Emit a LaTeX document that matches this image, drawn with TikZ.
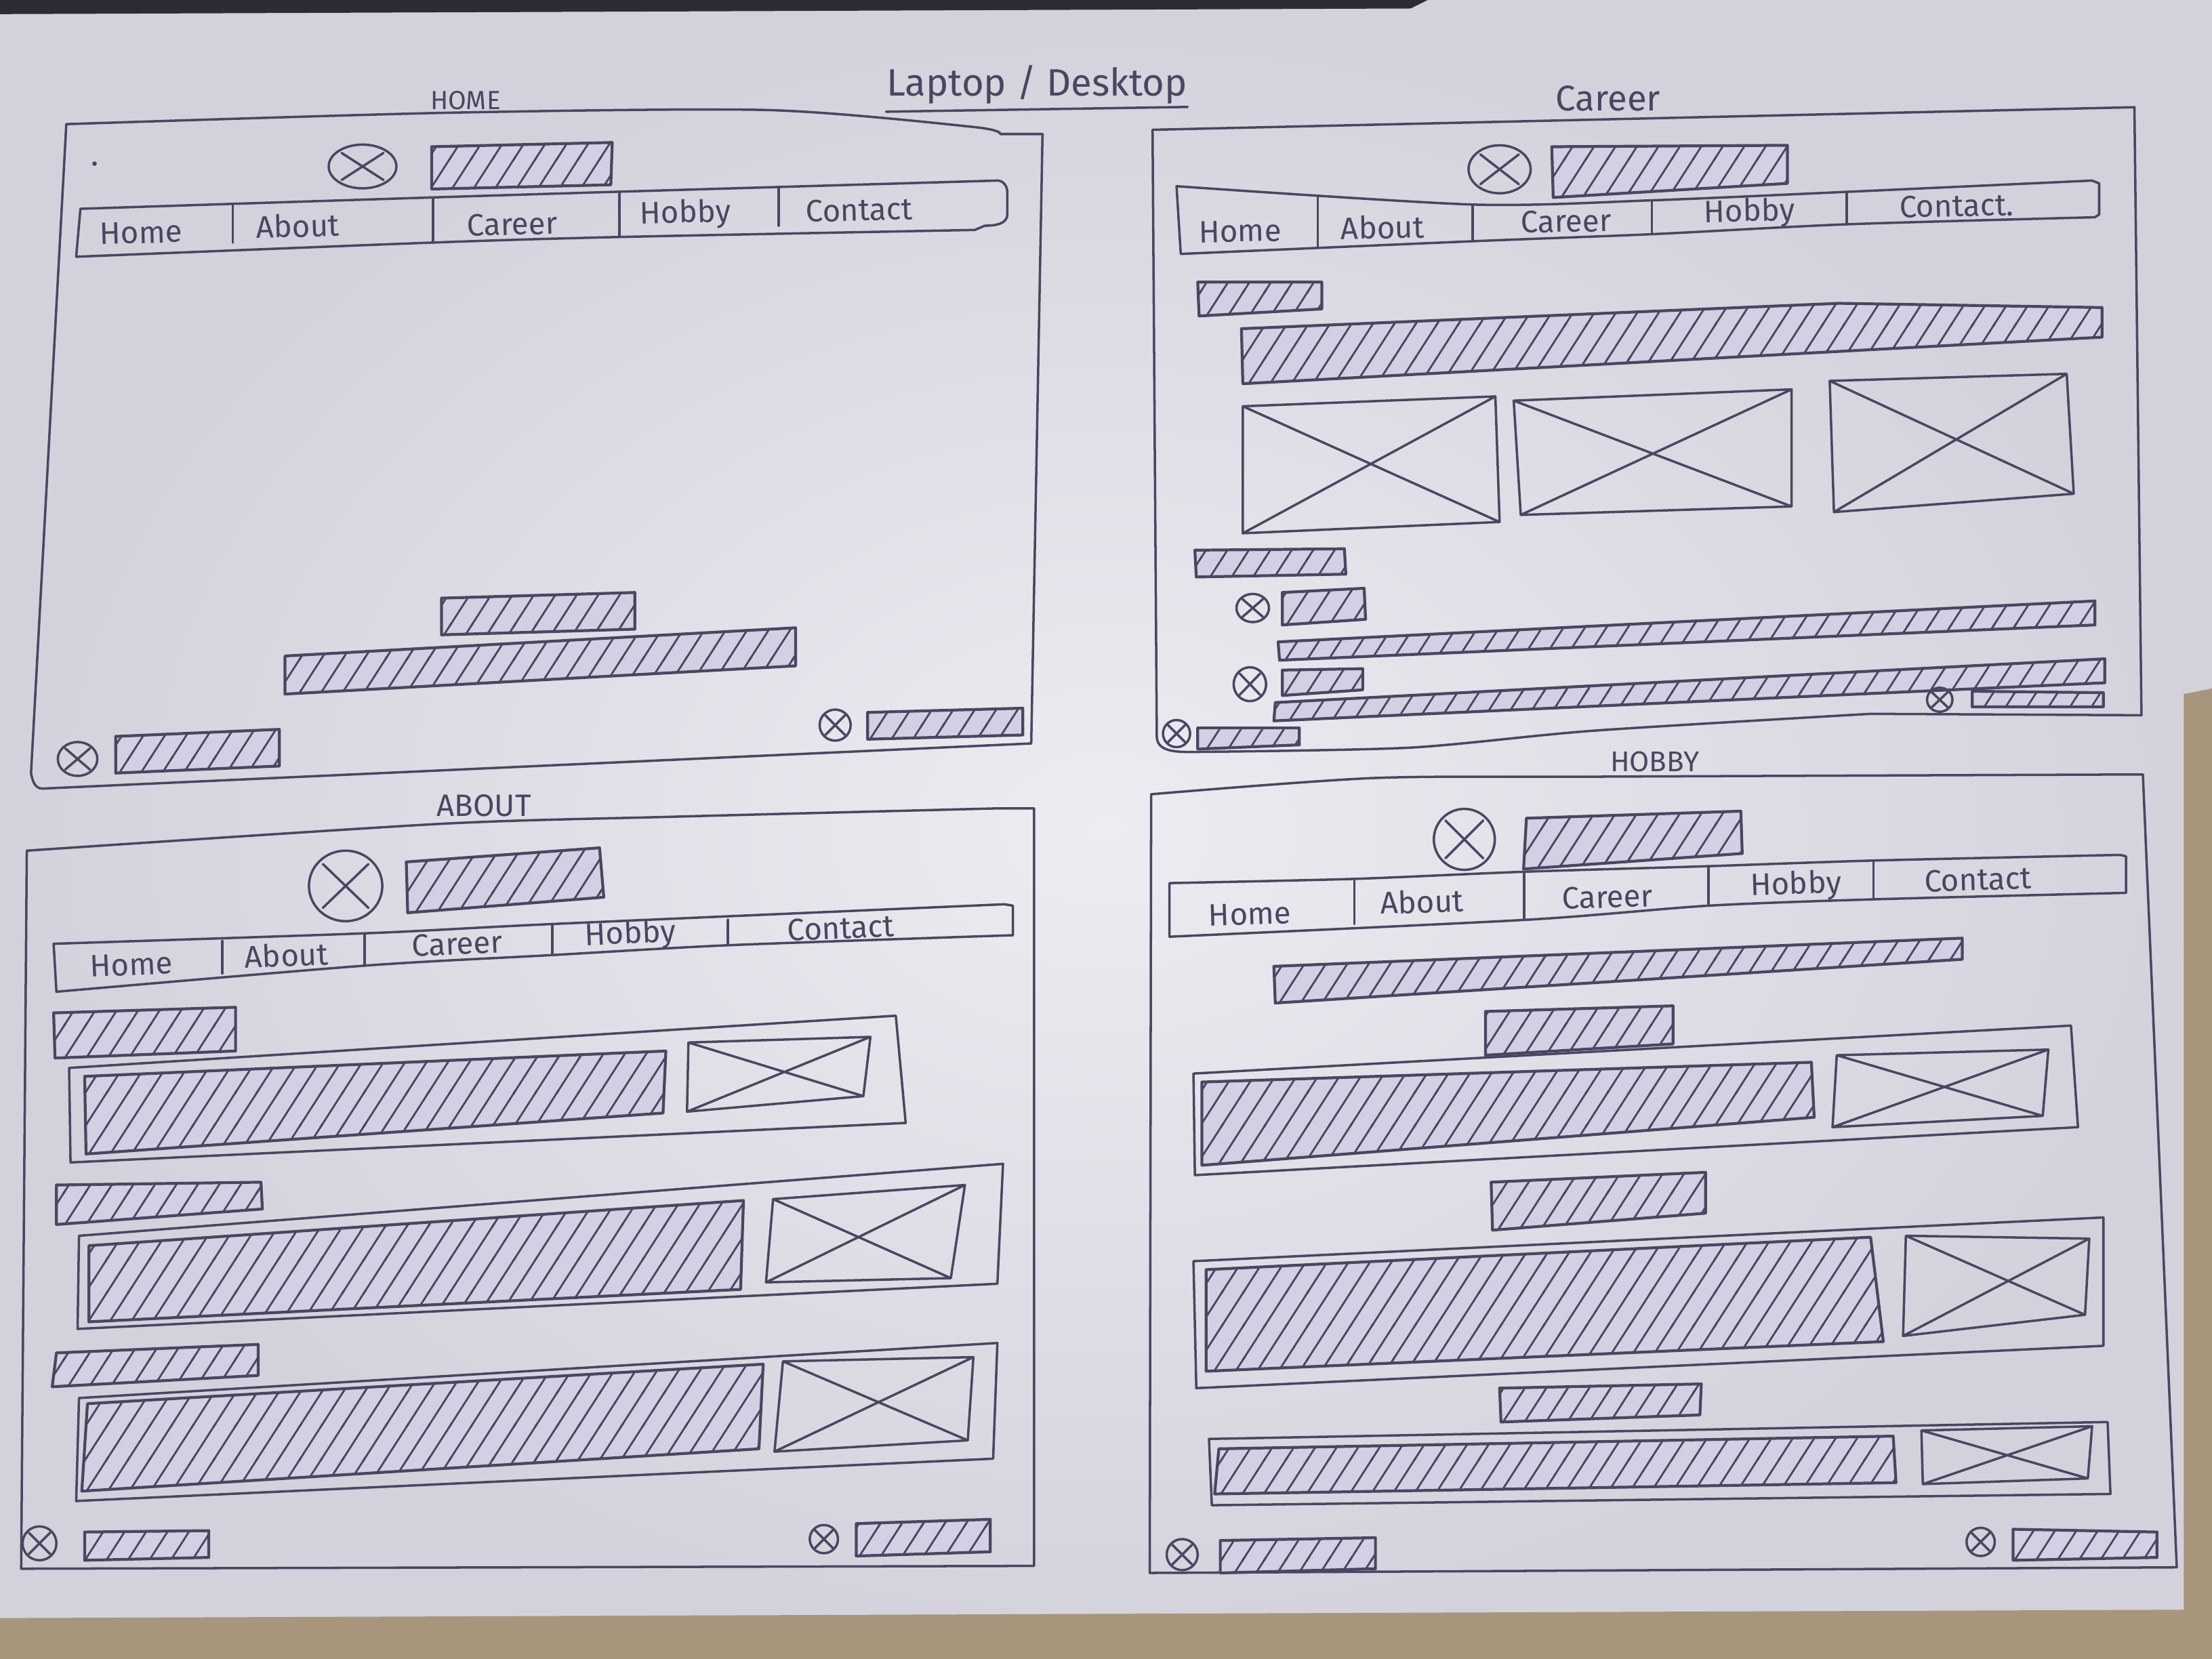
\documentclass[tikz,border=0pt]{standalone}
\usepackage{fontspec}
\setmainfont{Fira Sans}
\usetikzlibrary{patterns}
\definecolor{ink}{HTML}{4A4662}
\definecolor{barfill}{HTML}{D2D0E2}
\definecolor{paperin}{HTML}{EDECF2}
\definecolor{paperout}{HTML}{D3D2DC}
\definecolor{wood}{HTML}{A8967C}
\definecolor{shadow}{HTML}{2C2B36}

% pen hatching: steep strokes going up to the right
\pgfdeclarepatternformonly{penhatch}{\pgfqpoint{-1pt}{-1pt}}{\pgfqpoint{10pt}{15pt}}{\pgfqpoint{9pt}{14pt}}{%
  \pgfsetlinewidth{0.8pt}\pgfsetroundcap
  \pgfpathmoveto{\pgfqpoint{-0.5pt}{-0.78pt}}%
  \pgfpathlineto{\pgfqpoint{9.5pt}{14.78pt}}%
  \pgfusepath{stroke}}

\tikzset{
  pen/.style={draw=ink, line width=1pt, line join=round, line cap=round},
  hatched/.style={pen, line width=1.2pt, preaction={fill=barfill}, pattern=penhatch, pattern color=ink},
  navtxt/.style={text=ink, inner sep=0pt, font=\fontsize{13}{13}\selectfont},
  paneltitle/.style={text=ink, inner sep=0pt},
  wavy/.style={smooth, tension=0.45},
}

% hatched bar through four corners: top left, top right, bottom right, bottom left
\newcommand\hq[8]{\draw[hatched] (#1,#2) -- (#3,#4) -- (#5,#6) -- (#7,#8) -- cycle;}
% image placeholder through four corners, with both diagonals
\newcommand\iq[8]{\draw[pen] (#1,#2) -- (#3,#4) -- (#5,#6) -- (#7,#8) -- cycle
  (#1,#2) -- (#5,#6) (#3,#4) -- (#7,#8);}
% hatched bar: left x, top y, right x, bottom y, rise of the right end
\newcommand\hatchbar[5]{\draw[hatched] (#1,#2) -- (#3,{#2-#5}) -- (#3,{#4-#5}) -- (#1,#4) -- cycle;}
% crossed circle icon: centre x, centre y, x radius, y radius
\newcommand\xcirc[4]{\draw[pen] (#1,#2) ellipse [x radius=#3, y radius=#4]
  ({#1-0.62*#3},{#2-0.62*#4}) -- ({#1+0.62*#3},{#2+0.62*#4})
  ({#1-0.62*#3},{#2+0.62*#4}) -- ({#1+0.62*#3},{#2-0.62*#4});}

\begin{document}
\begin{tikzpicture}[x=0.020816cm, y=-0.020816cm]
\useasboundingbox (0,0) rectangle (1568,1176);

% sheet and surroundings
\shade[inner color=paperin, outer color=paperout] (0,0) rectangle (1568,1176);
\fill[shadow] (0,0) -- (1012,0) -- (1000,6) -- (0,10) -- cycle;
\fill[wood] (1548,492) -- (1568,488) -- (1568,1176) -- (1548,1176) -- cycle;
\fill[wood] (0,1147) -- (1568,1141) -- (1568,1176) -- (0,1176) -- cycle;

% heading
\node[paneltitle, font=\fontsize{16}{16}\selectfont] (ttl) at (735,60) {Laptop / Desktop};
\draw[pen] ([yshift=-3pt]ttl.south west) -- ([yshift=-1pt]ttl.south east);

% ---------------- HOME ----------------
\node[paneltitle, font=\fontsize{11}{11}\selectfont] (home-title) at (330,71) {HOME};
\draw[pen] plot[wavy] coordinates {(47,88) (314,80) (544,78) (690,90) (709,95)} -- (739,95) -- (731,527)
  -- (30,559) to[out=180, in=-80] (22,548) -- cycle;
\fill[ink] (67,116) circle [radius=1.6];
\xcirc{257}{118}{24}{15.5}
\hq{306}{104}{434}{101}{433}{131}{306}{134}
\draw[pen] plot[wavy] coordinates {(57,148) (305,140) (452,135.5) (707,128)} to[out=0, in=90] (714,136)
  -- (714,152) to[out=-90, in=0] (698,160) -- plot[wavy] coordinates {(691,163) (439,168) (305,172) (54,182)} -- cycle;
\draw[pen] (165,145) -- (165,172) (307,141) -- (307,172) (439,137) -- (439,168) (552,133) -- (552,160);
\node[navtxt, rotate=1.5] (home-n1) at (100,165) {Home};
\node[navtxt, rotate=1.5] (home-n2) at (211,160) {About};
\node[navtxt, rotate=1.5] (home-n3) at (363,159) {Career};
\node[navtxt, rotate=1.5] (home-n4) at (486,152) {Hobby};
\node[navtxt, rotate=1.5] (home-n5) at (609,149) {Contact};
\hatchbar{313}{424}{450}{450}{4}
\hatchbar{202}{465}{564}{492}{20}
\xcirc{55}{538}{14}{12}
\hatchbar{82}{522}{198}{548}{5}
\xcirc{592}{514}{11}{11}
\hatchbar{615}{505}{725}{524}{3}

% ---------------- CAREER ----------------
\node[paneltitle, font=\fontsize{15}{15}\selectfont] (career-title) at (1140,70) {Career};
\draw[pen] (817,92) -- (1513,76) -- (1518,507)
  -- plot[wavy] coordinates {(1326,506) (1129,518) (999,530) (849,533)} to[out=180, in=-90] (820,522) -- cycle;
\xcirc{1063}{120}{22}{17}
\hq{1100}{104}{1267}{103}{1267}{130}{1101}{140}
\draw[pen] plot[wavy] coordinates {(834,132) (1044,145) (1171,142) (1309,136) (1483,128)} -- (1488,130) -- (1488,152)
  -- plot[wavy] coordinates {(1485,154) (1309,159) (1171,166) (1044,171) (837,180)} -- cycle;
\draw[pen] (934,139) -- (934,175) (1044,145) -- (1044,171) (1171,142) -- (1171,166) (1309,136) -- (1309,159);
\node[navtxt, rotate=1.2] (career-n1) at (879,164) {Home};
\node[navtxt, rotate=1.2] (career-n2) at (980,161) {About};
\node[navtxt, rotate=1.2] (career-n3) at (1110,157) {Career};
\node[navtxt, rotate=1.2] (career-n4) at (1240,151) {Hobby};
\node[navtxt, rotate=1.2] (career-n5) at (1387,146) {Contact.};
\hq{849}{200}{937}{200}{937}{219}{850}{224}
\draw[hatched] (880,233) -- (1304,215) -- (1490,218) -- (1490,239) -- (881,272) -- cycle;
\iq{881}{288}{1060}{281}{1063}{370}{881}{378}
\iq{1073}{284}{1270}{276}{1270}{359}{1078}{365}
\iq{1297}{270}{1465}{265}{1470}{350}{1300}{363}
\hq{847}{390}{953}{389}{954}{407}{848}{409}
\xcirc{888}{431}{11.5}{10}
\hq{909}{420}{967}{417}{968}{439}{909}{443}
\hq{906}{455}{1485}{426}{1485}{443}{907}{468}
\xcirc{886}{485}{11.5}{12}
\hq{909}{475}{966}{474}{966}{489}{909}{493}
\hq{904}{498}{1492}{467}{1492}{484}{903}{511}
\xcirc{1375}{496}{9}{8.5}
\hq{1398}{490}{1491}{491}{1491}{501}{1398}{501}
\xcirc{834}{520}{9.6}{9.6}
\hq{849}{516}{921}{516}{921}{528}{849}{531}

% ---------------- ABOUT ----------------
\node[paneltitle, font=\fontsize{13}{13}\selectfont] (about-title) at (343,571) {ABOUT};
\draw[pen] plot[wavy] coordinates {(19,603) (312,584) (475,579) (708,573)} -- (733,573) -- (733,1110) -- (15,1112) -- cycle;
\xcirc{245}{628}{26}{25}
\hq{288}{611}{425}{601}{428}{636}{289}{647}
\draw[pen] plot[wavy] coordinates {(38,669) (261,661.5) (391.5,655) (712,641)} -- (718,642) -- (718,663)
  -- plot[wavy] coordinates {(716,663) (517,670) (391.5,677) (258.5,684.5) (40,703)} -- cycle;
\draw[pen] (157.6,667) -- (157.6,690) (258.5,662) -- (258.5,684.5) (391.5,655) -- (391.5,677) (516,652) -- (516,670);
\node[navtxt, rotate=2.5] (about-n1) at (93,684) {Home};
\node[navtxt, rotate=2.5] (about-n2) at (203,677) {About};
\node[navtxt, rotate=2.5] (about-n3) at (324,669) {Career};
\node[navtxt, rotate=2.5] (about-n4) at (447,663) {Hobby};
\node[navtxt, rotate=2.5] (about-n5) at (596,658) {Contact};
\hq{38}{718}{167}{714}{167}{745}{39}{750}
\draw[pen] (49,757) -- (635,720) -- (642,796) -- (50,824) -- cycle;
\hq{60}{763}{472}{745}{470}{789}{61}{818}
\iq{488}{739}{617}{735}{612}{777}{487}{788}
\hq{40}{840}{185}{838}{186}{857}{40}{868}
\draw[pen] (56,876) -- (711,825) -- (707,910) -- (55,942) -- cycle;
\hq{63}{883}{527}{851}{525}{914}{63}{937}
\iq{548}{850}{684}{840}{674}{906}{543}{909}
\hq{40}{959}{183}{953}{183}{975}{37}{983}
\draw[pen] (56,991) -- (707,952) -- (704,1034) -- (54,1064) -- cycle;
\hq{62}{995}{541}{967}{538}{1027}{58}{1057}
\iq{555}{965}{690}{962}{686}{1021}{549}{1029}
\xcirc{28}{1094}{12}{12}
\hq{60}{1086}{148}{1085}{148}{1104}{60}{1106}
\xcirc{584}{1091}{10}{10}
\hq{607}{1080}{702}{1077}{702}{1100}{607}{1103}

% ---------------- HOBBY ----------------
\node[paneltitle, font=\fontsize{12}{12}\selectfont] (hobby-title) at (1173,540) {HOBBY};
\draw[pen] plot[wavy] coordinates {(816,563) (974,551.5) (1142,550.5) (1510,549)} -- (1519,549) -- (1543,1111) -- (815,1115) -- cycle;
\xcirc{1038}{595}{21.6}{21.6}
\hq{1082}{580}{1234}{575}{1235}{605}{1080}{616}
\draw[pen] plot[wavy] coordinates {(829,626) (960,623) (1079,618) (1211,614) (1328,610) (1503,606)} -- (1507,607) -- (1507,633)
  -- plot[wavy] coordinates {(1503,633) (1328,637.5) (1211,642) (1082,652) (829,664)} -- cycle;
\draw[pen] (960,623) -- (960,655) (1080.5,618) -- (1080.5,652) (1211,614) -- (1211,641) (1328,610) -- (1328,636.5);
\node[navtxt, rotate=1.8] (hobby-n1) at (886,648) {Home};
\node[navtxt, rotate=1.8] (hobby-n2) at (1008,639) {About};
\node[navtxt, rotate=1.8] (hobby-n3) at (1139.5,636) {Career};
\node[navtxt, rotate=1.8] (hobby-n4) at (1273,628) {Hobby};
\node[navtxt, rotate=1.8] (hobby-n5) at (1402,623.6) {Contact};
\hq{903}{685}{1391}{665}{1391}{680}{904}{711}
\hq{1053}{717}{1186}{713}{1186}{740}{1053}{748}
\draw[pen] (846,761) -- (1468,727) -- (1473,799) -- (847,833) -- cycle;
\hq{852}{767}{1284}{753}{1286}{792}{852}{826}
\iq{1302}{748}{1452}{744}{1448}{791}{1299}{799}
\hq{1057}{838}{1209}{831}{1209}{860}{1058}{872}
\draw[pen] (846,894) -- (1491,863) -- (1491,954) -- (848,984) -- cycle;
\hq{855}{900}{1326}{877}{1335}{951}{855}{972}
\iq{1351}{876}{1481}{878}{1478}{932}{1349}{947}
\hq{1063}{984}{1206}{981}{1205}{1003}{1064}{1008}
\draw[pen] (857,1020) -- (1494,1008) -- (1496,1059) -- (859,1067) -- cycle;
\hq{864}{1027}{1342}{1018}{1344}{1051}{861}{1059}
\iq{1362}{1014}{1483}{1011}{1480}{1048}{1363}{1052}
\xcirc{838}{1102}{11}{11}
\hq{865}{1092}{975}{1090}{975}{1112}{865}{1115}
\xcirc{1404}{1093}{10}{10}
\hq{1427}{1084}{1529}{1086}{1529}{1104}{1427}{1106}
\end{tikzpicture}
\end{document}
